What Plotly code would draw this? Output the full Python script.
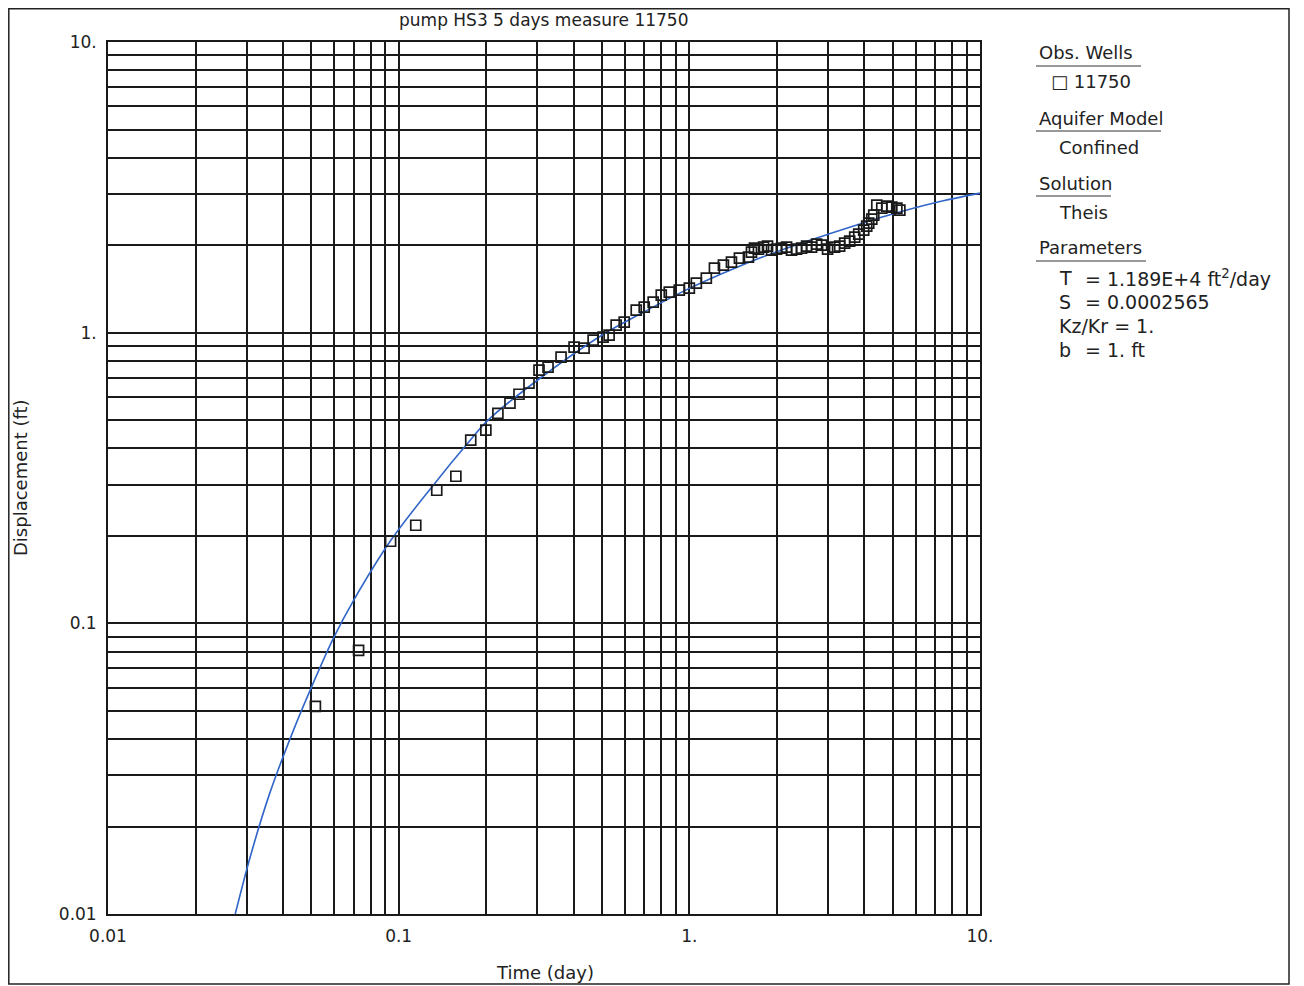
import plotly.graph_objects as go

# observed drawdown, well 11750
obs_time = [0.0517, 0.0728, 0.0938, 0.1145, 0.1352, 0.1573, 0.177, 0.1995, 0.2195, 0.2415,
            0.2594, 0.2808, 0.304, 0.3265, 0.362, 0.4013, 0.4344, 0.4667, 0.505, 0.5297,
            0.56, 0.597, 0.6566, 0.6995, 0.751, 0.8006, 0.853, 0.9236, 1.0, 1.057,
            1.144, 1.22, 1.31, 1.396, 1.487, 1.597, 1.636, 1.675, 1.729, 1.80,
            1.858, 1.918, 1.995, 2.076, 2.16, 2.247, 2.339, 2.433, 2.532, 2.634,
            2.741, 2.852, 2.99, 3.16, 3.29, 3.423, 3.562, 3.707, 3.826, 3.98,
            4.076, 4.142, 4.243, 4.31, 4.415, 4.593, 4.778, 4.974, 5.175, 5.30]
obs_disp = [0.0518, 0.0807, 0.1916, 0.2175, 0.287, 0.3206, 0.4266, 0.462, 0.528, 0.572,
            0.614, 0.670, 0.743, 0.7606, 0.8235, 0.8915, 0.8842, 0.942, 0.965, 0.980,
            1.061, 1.087, 1.195, 1.224, 1.274, 1.346, 1.379, 1.40, 1.423, 1.48,
            1.54, 1.667, 1.708, 1.749, 1.806, 1.82, 1.893, 1.954, 1.938, 1.97,
            1.986, 1.923, 1.938, 1.954, 1.97, 1.923, 1.938, 1.954, 1.986, 1.97,
            2.016, 2.0, 1.938, 1.97, 1.986, 2.033, 2.065, 2.132, 2.183, 2.253,
            2.326, 2.381, 2.459, 2.538, 2.748, 2.684, 2.727, 2.704, 2.684, 2.641]

# fitted Theis curve
fit_time = [0.0274, 0.031, 0.036, 0.0435, 0.05, 0.06, 0.07, 0.094, 0.132, 0.173,
            0.203, 0.30, 0.5, 0.7, 1.0, 1.4, 2.0, 3.0, 5.0, 7.0, 10.0]
fit_disp = [0.01, 0.016, 0.026, 0.043, 0.06, 0.09, 0.12, 0.193, 0.30, 0.417,
            0.50, 0.686, 0.98, 1.18, 1.42, 1.65, 1.90, 2.18, 2.56, 2.80, 3.02]

tick_vals = [0.01, 0.1, 1, 10]
tick_text = ['0.01', '0.1', '1.', '10.']

FONT = 'DejaVu Sans, Liberation Sans, sans-serif'
INK = '#1a1a1a'

fig = go.Figure()

fig.add_trace(go.Scatter(
    x=fit_time, y=fit_disp, mode='lines',
    line=dict(color='#3166c8', width=1.6, shape='spline'),
    showlegend=False
))

fig.add_trace(go.Scatter(
    x=obs_time, y=obs_disp, mode='markers',
    marker=dict(symbol='square-open', size=10, color=INK, line=dict(width=1.7)),
    showlegend=False
))

axis_common = dict(
    type='log',
    tickvals=tick_vals,
    ticktext=tick_text,
    showgrid=True, gridcolor=INK, gridwidth=1.6,
    minor=dict(dtick='D1', showgrid=True, gridcolor=INK, gridwidth=1.6, ticks=''),
    showline=True, linecolor=INK, linewidth=1.8, mirror=True,
    ticks='', zeroline=False,
    tickfont=dict(family=FONT, size=17, color='#222222'),
)

fig.update_xaxes(range=[-2, 1], ticklabelstandoff=6, **axis_common)
fig.update_yaxes(range=[-2, 1], ticklabelstandoff=6, **axis_common)

# page body adds an 8px margin, so the figure is a little smaller than the window
OFF = 8
W, H = 1296, 978
L, R, T, B = 100, 324, 34, 72
pw, ph = W - L - R, H - T - B


def px(x):
    return (x - OFF - L) / pw


def py(y):
    return (H - B - (y - OFF)) / ph


ann = []


def text(x, y, s, size=18, anchor='left', angle=0):
    ann.append(dict(x=px(x), y=py(y), xref='paper', yref='paper', text=s,
                    showarrow=False, xanchor=anchor, yanchor='middle', textangle=angle,
                    font=dict(family=FONT, size=size, color='#222222')))


text(544, 20, 'pump HS3 5 days measure 11750', size=17, anchor='center')
text(545, 972, 'Time (day)', size=18, anchor='center')
text(20, 478, 'Displacement (ft)', size=18, anchor='center', angle=-90)

text(1037, 53, 'Obs. Wells')
text(1049, 82, '\u25a1 11750')
text(1037, 118, 'Aquifer Model')
text(1057, 147, 'Confined')
text(1037, 183, 'Solution')
text(1057, 212, 'Theis')
text(1037, 248, 'Parameters')
text(1057, 278, 'T', size=19)
text(1083, 278, '= 1.189E+4 ft<sup>2</sup>/day', size=19)
text(1057, 302, 'S', size=19)
text(1083, 302, '= 0.0002565', size=19)
text(1057, 326, 'Kz/Kr = 1.', size=19)
text(1057, 350, 'b', size=19)
text(1083, 350, '= 1. ft', size=19)

shapes = []
# outer frame
shapes.append(dict(type='rect', xref='paper', yref='paper',
                   x0=px(8.8), x1=px(1289), y0=py(984), y1=py(8.8),
                   line=dict(color='#222222', width=1.5)))
# heading underlines
for y0, x1 in [(66, 1141), (131, 1161), (196, 1111), (261, 1146)]:
    shapes.append(dict(type='line', xref='paper', yref='paper',
                       x0=px(1036), x1=px(x1), y0=py(y0), y1=py(y0),
                       line=dict(color='#333333', width=1)))

fig.update_layout(
    width=W, height=H,
    margin=dict(l=L, r=R, t=T, b=B),
    paper_bgcolor='white',
    plot_bgcolor='white',
    annotations=ann,
    shapes=shapes,
    showlegend=False,
)

fig.write_html("out.html")
